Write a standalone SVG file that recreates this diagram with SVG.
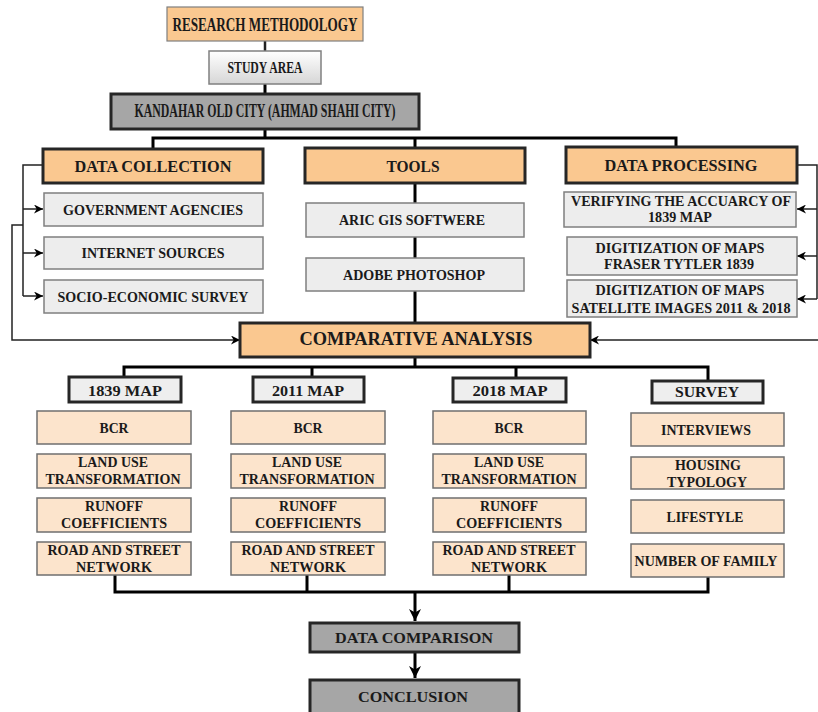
<svg xmlns="http://www.w3.org/2000/svg" width="818" height="712" viewBox="0 0 818 712">
<defs>
<linearGradient id="gStudy" x1="0" y1="0" x2="0" y2="1"><stop offset="0" stop-color="#ffffff"/><stop offset="1" stop-color="#d6d6d6"/></linearGradient>
<marker id="arr" viewBox="0 0 10 10" refX="10" refY="5" markerWidth="9" markerHeight="9" markerUnits="userSpaceOnUse" orient="auto"><path d="M0,0 L10,5 L0,10 L3,5 Z" fill="#000"/></marker>
<marker id="arrB" viewBox="0 0 10 10" refX="10" refY="5" markerWidth="12" markerHeight="12" markerUnits="userSpaceOnUse" orient="auto"><path d="M0,0 L10,5 L0,10 L3,5 Z" fill="#000"/></marker>
</defs>
<style>
text{font-family:"Liberation Serif","Times New Roman",serif;font-weight:bold;fill:#1a1a1a;text-anchor:middle}
.hdr{fill:#fac890;stroke:#262626;stroke-width:3}
.top{fill:#fac890;stroke:#7f7f7f;stroke-width:1.2}
.grey{fill:#ededed;stroke:#7f7f7f;stroke-width:1.5}
.dark{fill:#a6a6a6;stroke:#262626;stroke-width:3}
.map{fill:#eeeeee;stroke:#262626;stroke-width:3}
.peach{fill:#fce4cc;stroke:#6f6f6f;stroke-width:1.5}
.thick{fill:none;stroke:#000;stroke-width:3}
.thin{fill:none;stroke:#222;stroke-width:1.5}
.f18{font-size:19px}.f16{font-size:17px}.f14{font-size:15px}
</style>
<g id="connectors">
<path class="thin" d="M265,41 V51" style="stroke-width:2.5"/>
<path class="thick" d="M265,84 V94"/>
<path class="thick" d="M265,129 V138 M153,148 V138 H676 V147 M415,138 V148"/>
<path class="thick" d="M415,183 V323"/>
<path class="thin" d="M43,165 H23 V296"/>
<path class="thin" d="M23,209 H43" marker-end="url(#arr)"/>
<path class="thin" d="M23,253 H43" marker-end="url(#arr)"/>
<path class="thin" d="M23,296 H43" marker-end="url(#arr)"/>
<path class="thin" d="M23,225 H12 V340 H240" marker-end="url(#arr)"/>
<path class="thin" d="M797,165 H817 V299"/>
<path class="thin" d="M817,209 H797" marker-end="url(#arr)"/>
<path class="thin" d="M817,256 H797" marker-end="url(#arr)"/>
<path class="thin" d="M817,299 H797" marker-end="url(#arr)"/>
<path class="thin" d="M818,340 H590" marker-end="url(#arr)"/>
<path class="thick" d="M415,357 V367 M124,377 V367 H708 V381 M312,367 V377 M516,367 V378"/>
<path class="thick" d="M115,575 V592 H708 V577 M307,575 V592 M509,575 V592"/>
<path class="thick" d="M415,592 V621" marker-end="url(#arrB)"/>
<path class="thick" d="M415,652 V678" marker-end="url(#arrB)"/>
</g>
<g id="research-methodology"><rect class="top" x="167" y="7" width="196" height="34"/><text class="f18" x="265" y="31" textLength="185" lengthAdjust="spacingAndGlyphs">RESEARCH METHODOLOGY</text></g>
<g id="study-area"><rect x="209" y="51" width="112" height="33" fill="url(#gStudy)" stroke="#808080" stroke-width="1.5"/><text class="f16" x="265" y="73" textLength="75" lengthAdjust="spacingAndGlyphs">STUDY AREA</text></g>
<g id="kandahar"><rect class="dark" x="111" y="94" width="308" height="35"/><text class="f18" x="265" y="117" textLength="261" lengthAdjust="spacingAndGlyphs">KANDAHAR OLD CITY (AHMAD SHAHI CITY)</text></g>

<g id="data-collection"><rect class="hdr" x="43" y="149" width="220" height="34"/><text class="f16" x="153" y="172" textLength="157" lengthAdjust="spacingAndGlyphs">DATA COLLECTION</text></g>
<g id="gov"><rect class="grey" x="44" y="193" width="219" height="33"/><text class="f14" x="153" y="215" textLength="180" lengthAdjust="spacingAndGlyphs">GOVERNMENT AGENCIES</text></g>
<g id="internet"><rect class="grey" x="44" y="237" width="219" height="32"/><text class="f14" x="153" y="258" textLength="143" lengthAdjust="spacingAndGlyphs">INTERNET SOURCES</text></g>
<g id="socio"><rect class="grey" x="44" y="280" width="219" height="33"/><text class="f14" x="153" y="302" textLength="191" lengthAdjust="spacingAndGlyphs">SOCIO-ECONOMIC SURVEY</text></g>

<g id="tools"><rect class="hdr" x="305" y="148" width="220" height="35"/><text class="f16" x="413" y="172" textLength="53" lengthAdjust="spacingAndGlyphs">TOOLS</text></g>
<g id="arcgis"><rect class="grey" x="306" y="203" width="218" height="34"/><text class="f14" x="412" y="225" textLength="146" lengthAdjust="spacingAndGlyphs">ARIC GIS SOFTWERE</text></g>
<g id="photoshop"><rect class="grey" x="306" y="258" width="218" height="33"/><text class="f14" x="414" y="280" textLength="142" lengthAdjust="spacingAndGlyphs">ADOBE PHOTOSHOP</text></g>

<g id="data-processing"><rect class="hdr" x="566" y="147" width="231" height="36"/><text class="f16" x="681" y="171" textLength="153" lengthAdjust="spacingAndGlyphs">DATA PROCESSING</text></g>
<g id="verify"><rect class="grey" x="564" y="192" width="232" height="35"/><text class="f14" x="681" y="206" textLength="220" lengthAdjust="spacingAndGlyphs">VERIFYING THE ACCUARCY OF</text><text class="f14" x="680" y="222" textLength="64" lengthAdjust="spacingAndGlyphs">1839 MAP</text></g>
<g id="digit1"><rect class="grey" x="567" y="237" width="230" height="38"/><text class="f14" x="680" y="253" textLength="169" lengthAdjust="spacingAndGlyphs">DIGITIZATION OF MAPS</text><text class="f14" x="679" y="269" textLength="150" lengthAdjust="spacingAndGlyphs">FRASER TYTLER 1839</text></g>
<g id="digit2"><rect class="grey" x="567" y="280" width="230" height="37"/><text class="f14" x="680" y="295" textLength="169" lengthAdjust="spacingAndGlyphs">DIGITIZATION OF MAPS</text><text class="f14" x="681" y="313" textLength="219" lengthAdjust="spacingAndGlyphs">SATELLITE IMAGES 2011 &amp; 2018</text></g>

<g id="comparative"><rect class="hdr" x="240" y="323" width="350" height="34"/><text class="f18" x="416" y="345" textLength="233" lengthAdjust="spacingAndGlyphs">COMPARATIVE ANALYSIS</text></g>

<g id="map1839"><rect class="map" x="69" y="377" width="112" height="25"/><text class="f14" x="125" y="396" textLength="74" lengthAdjust="spacingAndGlyphs">1839 MAP</text></g>
<g id="map2011"><rect class="map" x="253" y="377" width="111" height="25"/><text class="f14" x="308" y="396" textLength="72" lengthAdjust="spacingAndGlyphs">2011 MAP</text></g>
<g id="map2018"><rect class="map" x="453" y="378" width="113" height="24"/><text class="f14" x="510" y="396" textLength="75" lengthAdjust="spacingAndGlyphs">2018 MAP</text></g>
<g id="survey"><rect class="map" x="652" y="381" width="111" height="22"/><text class="f14" x="707" y="397" textLength="64" lengthAdjust="spacingAndGlyphs">SURVEY</text></g>

<g id="c1-bcr"><rect class="peach" x="37" y="411" width="154" height="33"/><text class="f14" x="114" y="433" textLength="29" lengthAdjust="spacingAndGlyphs">BCR</text></g>
<g id="c1-land"><rect class="peach" x="37" y="454" width="154" height="34"/><text class="f14" x="113" y="467" textLength="70" lengthAdjust="spacingAndGlyphs">LAND USE</text><text class="f14" x="113" y="484" textLength="135" lengthAdjust="spacingAndGlyphs">TRANSFORMATION</text></g>
<g id="c1-runoff"><rect class="peach" x="37" y="498" width="154" height="34"/><text class="f14" x="114" y="511" textLength="58" lengthAdjust="spacingAndGlyphs">RUNOFF</text><text class="f14" x="114" y="528" textLength="106" lengthAdjust="spacingAndGlyphs">COEFFICIENTS</text></g>
<g id="c1-road"><rect class="peach" x="37" y="542" width="154" height="33"/><text class="f14" x="114" y="555" textLength="133" lengthAdjust="spacingAndGlyphs">ROAD AND STREET</text><text class="f14" x="114" y="572" textLength="76" lengthAdjust="spacingAndGlyphs">NETWORK</text></g>

<g id="c2-bcr"><rect class="peach" x="231" y="411" width="154" height="33"/><text class="f14" x="308" y="433" textLength="29" lengthAdjust="spacingAndGlyphs">BCR</text></g>
<g id="c2-land"><rect class="peach" x="231" y="454" width="154" height="34"/><text class="f14" x="307" y="467" textLength="70" lengthAdjust="spacingAndGlyphs">LAND USE</text><text class="f14" x="307" y="484" textLength="135" lengthAdjust="spacingAndGlyphs">TRANSFORMATION</text></g>
<g id="c2-runoff"><rect class="peach" x="231" y="498" width="154" height="34"/><text class="f14" x="308" y="511" textLength="58" lengthAdjust="spacingAndGlyphs">RUNOFF</text><text class="f14" x="308" y="528" textLength="106" lengthAdjust="spacingAndGlyphs">COEFFICIENTS</text></g>
<g id="c2-road"><rect class="peach" x="231" y="542" width="154" height="33"/><text class="f14" x="308" y="555" textLength="133" lengthAdjust="spacingAndGlyphs">ROAD AND STREET</text><text class="f14" x="308" y="572" textLength="76" lengthAdjust="spacingAndGlyphs">NETWORK</text></g>

<g id="c3-bcr"><rect class="peach" x="433" y="411" width="153" height="33"/><text class="f14" x="509" y="433" textLength="29" lengthAdjust="spacingAndGlyphs">BCR</text></g>
<g id="c3-land"><rect class="peach" x="433" y="454" width="153" height="34"/><text class="f14" x="509" y="467" textLength="70" lengthAdjust="spacingAndGlyphs">LAND USE</text><text class="f14" x="509" y="484" textLength="135" lengthAdjust="spacingAndGlyphs">TRANSFORMATION</text></g>
<g id="c3-runoff"><rect class="peach" x="433" y="498" width="153" height="34"/><text class="f14" x="509" y="511" textLength="58" lengthAdjust="spacingAndGlyphs">RUNOFF</text><text class="f14" x="509" y="528" textLength="106" lengthAdjust="spacingAndGlyphs">COEFFICIENTS</text></g>
<g id="c3-road"><rect class="peach" x="433" y="542" width="153" height="33"/><text class="f14" x="509" y="555" textLength="133" lengthAdjust="spacingAndGlyphs">ROAD AND STREET</text><text class="f14" x="509" y="572" textLength="76" lengthAdjust="spacingAndGlyphs">NETWORK</text></g>

<g id="s-interviews"><rect class="peach" x="631" y="413" width="153" height="33"/><text class="f14" x="706" y="435" textLength="90" lengthAdjust="spacingAndGlyphs">INTERVIEWS</text></g>
<g id="s-housing"><rect class="peach" x="631" y="457" width="153" height="32"/><text class="f14" x="708" y="470" textLength="66" lengthAdjust="spacingAndGlyphs">HOUSING</text><text class="f14" x="707" y="487" textLength="80" lengthAdjust="spacingAndGlyphs">TYPOLOGY</text></g>
<g id="s-lifestyle"><rect class="peach" x="631" y="500" width="153" height="33"/><text class="f14" x="705" y="522" textLength="77" lengthAdjust="spacingAndGlyphs">LIFESTYLE</text></g>
<g id="s-family"><rect class="peach" x="631" y="544" width="153" height="33"/><text class="f14" x="706" y="566" textLength="143" lengthAdjust="spacingAndGlyphs">NUMBER OF FAMILY</text></g>

<g id="data-comparison"><rect class="dark" x="310" y="623" width="209" height="29"/><text class="f14" x="414" y="643" textLength="158" lengthAdjust="spacingAndGlyphs">DATA COMPARISON</text></g>
<g id="conclusion"><rect class="dark" x="310" y="680" width="209" height="36"/><text class="f14" x="413" y="702" textLength="110" lengthAdjust="spacingAndGlyphs">CONCLUSION</text></g>
</svg>
